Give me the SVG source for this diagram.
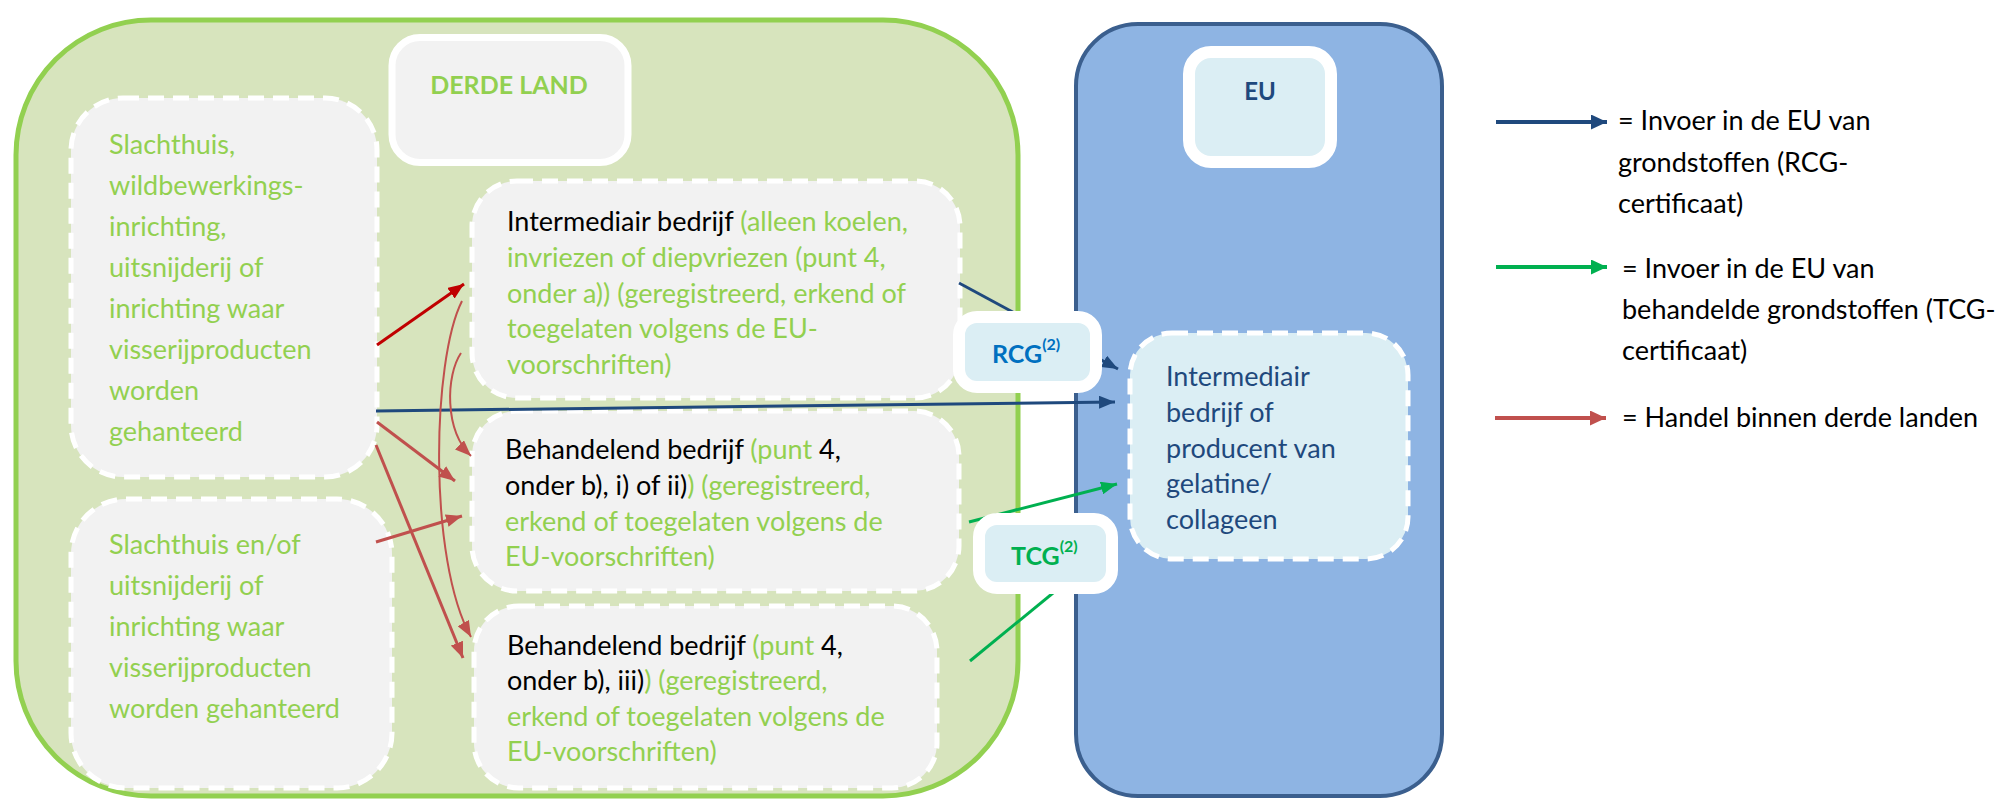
<svg xmlns="http://www.w3.org/2000/svg" width="2002" height="800" viewBox="0 0 2002 800">
<defs>
<style>
text { font-family: Lato, "Liberation Sans", sans-serif; font-size: 27px; }
.g { fill: #92D050; }
.k { fill: #000000; }
.b { fill: #1F497D; }
.dash { fill: #F2F2F2; stroke: #FFFFFF; stroke-width: 5; stroke-dasharray: 16 9; }
.lbl { fill: #DBEEF4; stroke: #FFFFFF; stroke-width: 12; }
.cn { fill: none; stroke-width: 3; }
.thin { fill: none; stroke-width: 2; }
.bold { font-weight: bold; }
</style>
<marker id="mBlue" markerUnits="userSpaceOnUse" viewBox="0 0 16 13" refX="16" refY="6.5" markerWidth="16" markerHeight="13" orient="auto"><path d="M0,0 L16,6.5 L0,13 z" fill="#1F497D"/></marker>
<marker id="mGreen" markerUnits="userSpaceOnUse" viewBox="0 0 16 13" refX="16" refY="6.5" markerWidth="16" markerHeight="13" orient="auto"><path d="M0,0 L16,6.5 L0,13 z" fill="#00B050"/></marker>
<marker id="mRed" markerUnits="userSpaceOnUse" viewBox="0 0 16 13" refX="16" refY="6.5" markerWidth="16" markerHeight="13" orient="auto"><path d="M0,0 L16,6.5 L0,13 z" fill="#C0504D"/></marker>
<marker id="mDark" markerUnits="userSpaceOnUse" viewBox="0 0 16 13" refX="16" refY="6.5" markerWidth="16" markerHeight="13" orient="auto"><path d="M0,0 L16,6.5 L0,13 z" fill="#C00000"/></marker>
<marker id="mLegB" markerUnits="userSpaceOnUse" viewBox="0 0 16 15" refX="16" refY="7.5" markerWidth="16" markerHeight="15" orient="auto"><path d="M0,0 L16,7.5 L0,15 z" fill="#1F497D"/></marker>
<marker id="mLegG" markerUnits="userSpaceOnUse" viewBox="0 0 16 15" refX="16" refY="7.5" markerWidth="16" markerHeight="15" orient="auto"><path d="M0,0 L16,7.5 L0,15 z" fill="#00B050"/></marker>
<marker id="mLegR" markerUnits="userSpaceOnUse" viewBox="0 0 16 15" refX="16" refY="7.5" markerWidth="16" markerHeight="15" orient="auto"><path d="M0,0 L16,7.5 L0,15 z" fill="#C0504D"/></marker>
</defs>

<g id="derde-land-region">
<rect x="16" y="20" width="1002" height="776" rx="135" fill="#D7E4BD" stroke="#92D050" stroke-width="5"/>
</g>
<g id="eu-region">
<rect x="1076" y="24" width="366" height="772" rx="62" fill="#8EB4E3" stroke="#3B5F8E" stroke-width="4"/>
</g>

<g id="derde-land-label">
<rect x="392" y="37.5" width="236" height="125" rx="28" fill="#F2F2F2" stroke="#FFFFFF" stroke-width="7"/>
<text x="509" y="94" text-anchor="middle" class="g bold" style="font-size:25px">DERDE LAND</text>
</g>

<g id="eu-label">
<rect x="1189" y="52" width="142" height="110" rx="22" class="lbl"/>
<text x="1260" y="100" text-anchor="middle" class="b bold" style="font-size:24px">EU</text>
</g>

<g id="slachthuis-1">
<rect x="71" y="98" width="306" height="379" rx="52" class="dash"/>
<text class="g">
<tspan x="109" y="154">Slachthuis,</tspan>
<tspan x="109" y="195">wildbewerkings-</tspan>
<tspan x="109" y="236">inrichting,</tspan>
<tspan x="109" y="277">uitsnijderij of</tspan>
<tspan x="109" y="318">inrichting waar</tspan>
<tspan x="109" y="359">visserijproducten</tspan>
<tspan x="109" y="400">worden</tspan>
<tspan x="109" y="441">gehanteerd</tspan>
</text>
</g>

<g id="slachthuis-2">
<rect x="71" y="499" width="321" height="289" rx="55" class="dash"/>
<text class="g">
<tspan x="109" y="554">Slachthuis en/of</tspan>
<tspan x="109" y="595">uitsnijderij of</tspan>
<tspan x="109" y="636">inrichting waar</tspan>
<tspan x="109" y="677">visserijproducten</tspan>
<tspan x="109" y="718">worden gehanteerd</tspan>
</text>
</g>

<g id="intermediair-derde">
<rect x="472" y="181" width="488" height="217" rx="45" class="dash"/>
<text class="g">
<tspan x="507" y="231"><tspan class="k">Intermediair bedrijf</tspan> (alleen koelen,</tspan>
<tspan x="507" y="267">invriezen of diepvriezen (punt 4,</tspan>
<tspan x="507" y="303">onder a)) (geregistreerd, erkend of</tspan>
<tspan x="507" y="338">toegelaten volgens de EU-</tspan>
<tspan x="507" y="374">voorschriften)</tspan>
</text>
</g>

<g id="behandelend-1">
<rect x="472" y="411" width="487" height="180" rx="45" class="dash"/>
<text class="g">
<tspan x="505" y="459"><tspan class="k">Behandelend bedrijf</tspan> (punt <tspan class="k">4,</tspan></tspan>
<tspan x="505" y="495"><tspan class="k">onder b), i) of ii)</tspan>) (geregistreerd,</tspan>
<tspan x="505" y="531">erkend of toegelaten volgens de</tspan>
<tspan x="505" y="566">EU-voorschriften)</tspan>
</text>
</g>

<g id="behandelend-2">
<rect x="474" y="606" width="463" height="182" rx="45" class="dash"/>
<text class="g">
<tspan x="507" y="655"><tspan class="k">Behandelend bedrijf</tspan> (punt <tspan class="k">4,</tspan></tspan>
<tspan x="507" y="690"><tspan class="k">onder b), iii)</tspan>) (geregistreerd,</tspan>
<tspan x="507" y="726">erkend of toegelaten volgens de</tspan>
<tspan x="507" y="761">EU-voorschriften)</tspan>
</text>
</g>

<g id="producent-eu">
<rect x="1130" y="333" width="278" height="226" rx="42" class="dash" style="fill:#DBEEF4"/>
<text class="b">
<tspan x="1166" y="386">Intermediair</tspan>
<tspan x="1166" y="422">bedrijf of</tspan>
<tspan x="1166" y="458">producent van</tspan>
<tspan x="1166" y="493">gelatine/</tspan>
<tspan x="1166" y="529">collageen</tspan>
</text>
</g>

<g id="connectors">
<path d="M959,283 L1118,369" class="cn" stroke="#1F497D" marker-end="url(#mBlue)"/>
<path d="M376,411 L1115,402" class="cn" stroke="#1F497D" marker-end="url(#mBlue)"/>
<path d="M969,522 L1117,484" class="cn" stroke="#00B050" marker-end="url(#mGreen)"/>
<path d="M970,661 L1075,575" class="cn" stroke="#00B050"/>
<path d="M377,345 L464,284" class="cn" stroke="#C00000" marker-end="url(#mDark)"/>
<path d="M377,422 L455,481" class="cn" stroke="#C0504D" marker-end="url(#mRed)"/>
<path d="M376,445 L463,658" class="cn" stroke="#C0504D" marker-end="url(#mRed)"/>
<path d="M376,542 L462,516" class="cn" stroke="#C0504D" marker-end="url(#mRed)"/>
<path d="M462,301 C432,360 428,560 471,637" class="thin" stroke="#C0504D" marker-end="url(#mRed)"/>
<path d="M461,353 C446,375 444,430 471,456" class="thin" stroke="#C0504D" marker-end="url(#mRed)"/>
</g>

<g id="rcg-label">
<rect x="959" y="317" width="137" height="70" rx="18" class="lbl"/>
<text x="992" y="363" class="bold" style="fill:#0070C0;font-size:25px">RCG<tspan dy="-13" style="font-size:16px">(2)</tspan></text>
</g>
<g id="tcg-label">
<rect x="979" y="519" width="133" height="69" rx="18" class="lbl"/>
<text x="1011" y="565" class="bold" style="fill:#00B050;font-size:25px">TCG<tspan dy="-13" style="font-size:16px">(2)</tspan></text>
</g>

<g id="legend">
<path d="M1496,122 L1607,122" fill="none" stroke="#1F497D" stroke-width="4" marker-end="url(#mLegB)"/>
<path d="M1496,267 L1607,267" fill="none" stroke="#00B050" stroke-width="4" marker-end="url(#mLegG)"/>
<path d="M1495,418 L1606,418" fill="none" stroke="#C0504D" stroke-width="4" marker-end="url(#mLegR)"/>
<text class="k">
<tspan x="1618" y="130">= Invoer in de EU van</tspan>
<tspan x="1618" y="172">grondstoffen (RCG-</tspan>
<tspan x="1618" y="213">certificaat)</tspan>
<tspan x="1622" y="278">= Invoer in de EU van</tspan>
<tspan x="1622" y="319">behandelde grondstoffen (TCG-</tspan>
<tspan x="1622" y="360">certificaat)</tspan>
<tspan x="1622" y="427">= Handel binnen derde landen</tspan>
</text>
</g>
</svg>
